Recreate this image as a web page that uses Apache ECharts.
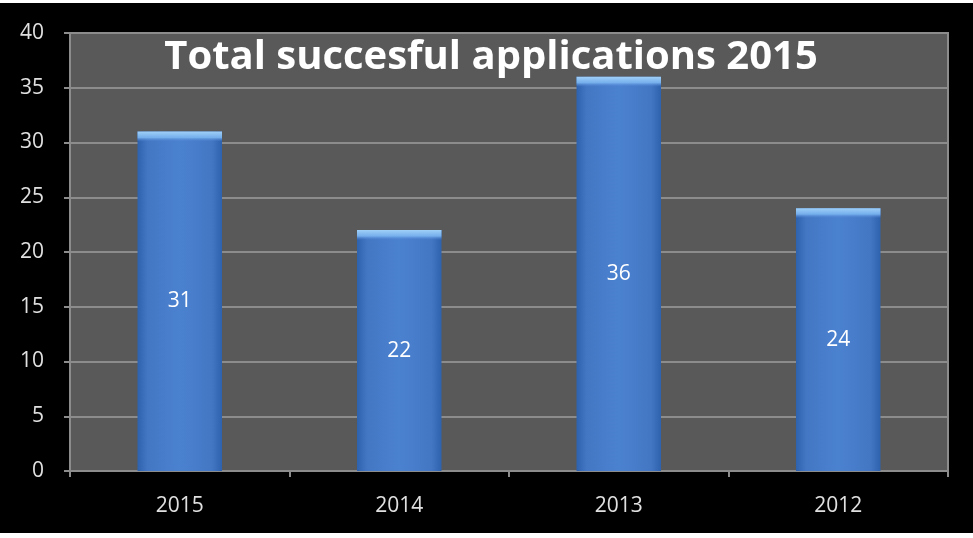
<!DOCTYPE html>
<html>
<head>
<meta charset="utf-8">
<script src="https://cdn.jsdelivr.net/npm/echarts@6/dist/echarts.min.js"></script>
<style>
html,body{margin:0;padding:0;background:#ffffff;}
#chart{position:absolute;left:0;top:3px;width:973px;height:530px;background:#000;}
</style>
</head>
<body>
<div id="chart"></div>
<script>
var categories = ["2015", "2014", "2013", "2012"];
var values = [31, 22, 36, 24];
var yTicks = [0, 5, 10, 15, 20, 25, 30, 35, 40];
var titleText = "Total succesful applications 2015";

var chart = echarts.init(document.getElementById('chart'), null, {renderer: 'canvas'});
var font = 'Open Sans';
var plotH = 438;
var yMax = 40;

var bodyGrad = new echarts.graphic.LinearGradient(0, 0, 1, 0, [
  {offset: 0, color: '#2f62ad'},
  {offset: 0.12, color: '#4377c4'},
  {offset: 0.5, color: '#4b82d0'},
  {offset: 0.88, color: '#4377c4'},
  {offset: 1, color: '#2f62ad'}
]);

var capData = values.map(function (v) {
  var h = v / yMax * plotH;
  var o = Math.min(1, 10 / h);
  return {
    value: v,
    itemStyle: {
      color: new echarts.graphic.LinearGradient(0, 0, 0, 1, [
        {offset: 0, color: 'rgba(160,208,248,1)'},
        {offset: o * 0.6, color: 'rgba(120,178,238,0.95)'},
        {offset: o, color: 'rgba(80,130,210,0)'},
        {offset: 1, color: 'rgba(80,130,210,0)'}
      ])
    }
  };
});

chart.setOption({
  backgroundColor: '#000',
  animation: false,
  title: {
    text: titleText,
    left: 486,
    textAlign: 'center',
    top: 30,
    textStyle: {color: '#ffffff', fontSize: 40, fontWeight: 'bold', fontFamily: font}
  },
  grid: {
    left: 70, right: 25, top: 30, bottom: 62,
    show: true, backgroundColor: '#595959', borderColor: '#8c8c8c', borderWidth: 2
  },
  xAxis: {
    type: 'category',
    data: categories,
    axisLine: {lineStyle: {color: '#8c8c8c', width: 2}},
    axisTick: {show: true, alignWithLabel: false, length: 6, lineStyle: {color: '#8c8c8c', width: 2}},
    axisLabel: {color: '#e0e0e0', fontSize: 21, fontFamily: font, margin: 25}
  },
  yAxis: {
    type: 'value',
    min: yTicks[0], max: yTicks[yTicks.length - 1], interval: 5,
    axisLine: {show: true, lineStyle: {color: '#8c8c8c', width: 2}},
    axisTick: {show: true, length: 6, lineStyle: {color: '#8c8c8c', width: 2}},
    axisLabel: {color: '#e0e0e0', fontSize: 21, fontFamily: font, margin: 26},
    splitLine: {show: true, lineStyle: {color: '#8c8c8c', width: 2}}
  },
  series: [
    {
      type: 'bar',
      data: values,
      barWidth: '38.5%',
      itemStyle: {color: bodyGrad},
      label: {show: true, position: 'inside', color: '#ffffff', fontSize: 21, fontFamily: font},
      z: 2
    },
    {
      type: 'bar',
      data: capData,
      barWidth: '38.5%',
      barGap: '-100%',
      silent: true,
      z: 3
    }
  ]
});
</script>
</body>
</html>
